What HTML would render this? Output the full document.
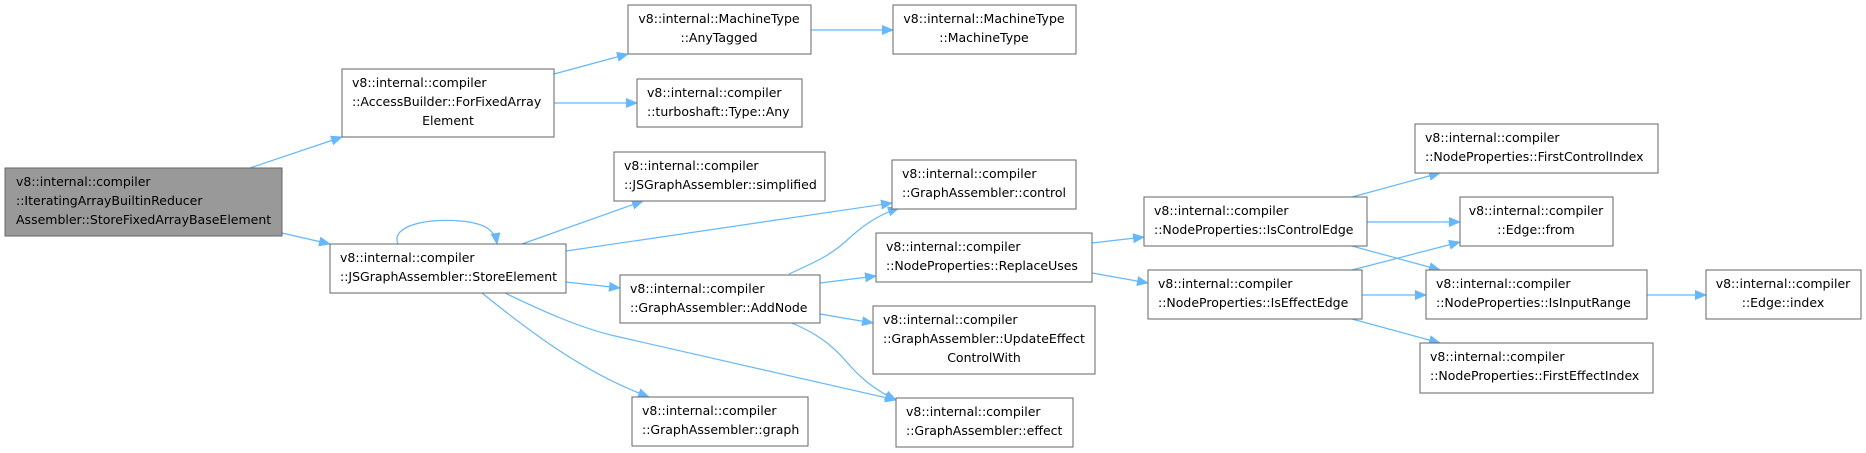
<!DOCTYPE html>
<html><head><meta charset="utf-8"><style>
html,body{margin:0;padding:0;background:#fff;}
svg{display:block;}
text{font-family:"DejaVu Sans","Liberation Sans",sans-serif;font-size:12.5px;fill:#000;}
rect{stroke:#666;stroke-width:1;fill:#fff;}
path.e{fill:none;stroke:#63b8ff;stroke-width:1.2;}
</style></head><body>
<svg width="1866" height="453" viewBox="0 0 1866 453" xmlns="http://www.w3.org/2000/svg">
<defs><marker id="a" markerWidth="12" markerHeight="10" refX="11" refY="5" orient="auto" markerUnits="userSpaceOnUse"><path d="M0,0 L12,5 L0,10 z" fill="#63b8ff"/></marker></defs>

<g>
<path class="e" marker-end="url(#a)" d="M250,168 L342,137"/>
<path class="e" marker-end="url(#a)" d="M282,233 L330,244"/>
<path class="e" marker-end="url(#a)" d="M398,244 C390,225 430,218 460,221 C485,223 495,230 497,244"/>
<path class="e" marker-end="url(#a)" d="M554,74 L628,54"/>
<path class="e" marker-end="url(#a)" d="M554,103 L637,103"/>
<path class="e" marker-end="url(#a)" d="M811,30 L893,30"/>
<path class="e" marker-end="url(#a)" d="M522,244 L643,201"/>
<path class="e" marker-end="url(#a)" d="M566,251 L892,203"/>
<path class="e" marker-end="url(#a)" d="M566,282 L620,288"/>
<path class="e" marker-end="url(#a)" d="M482,293 C540,340 590,375 649,397"/>
<path class="e" marker-end="url(#a)" d="M505,293 C540,310 580,328 615,336 C700,356 800,378 896,400"/>
<path class="e" marker-end="url(#a)" d="M789,274 C820,260 830,255 845,242 C860,228 875,216 899,208"/>
<path class="e" marker-end="url(#a)" d="M820,283 L876,276"/>
<path class="e" marker-end="url(#a)" d="M820,314 L873,323"/>
<path class="e" marker-end="url(#a)" d="M792,323 C815,333 830,343 845,360 C860,378 875,390 896,400"/>
<path class="e" marker-end="url(#a)" d="M1092,243 L1144,237"/>
<path class="e" marker-end="url(#a)" d="M1092,273 L1148,283"/>
<path class="e" marker-end="url(#a)" d="M1352,197 L1440,173"/>
<path class="e" marker-end="url(#a)" d="M1367,222 L1460,222"/>
<path class="e" marker-end="url(#a)" d="M1352,246 L1440,270"/>
<path class="e" marker-end="url(#a)" d="M1352,270 L1460,242"/>
<path class="e" marker-end="url(#a)" d="M1362,295 L1426,295"/>
<path class="e" marker-end="url(#a)" d="M1352,319 L1440,343"/>
<path class="e" marker-end="url(#a)" d="M1647,295 L1706,295"/>
</g>

<rect x="5" y="168" width="277" height="68" style="fill:#999"/>
<text x="16" y="186">v8::internal::compiler</text>
<text x="16" y="205">::IteratingArrayBuiltinReducer</text>
<text x="16" y="224">Assembler::StoreFixedArrayBaseElement</text>

<rect x="342" y="69" width="212" height="68"/>
<text x="352" y="87">v8::internal::compiler</text>
<text x="352" y="106">::AccessBuilder::ForFixedArray</text>
<text x="448" y="125" text-anchor="middle">Element</text>

<rect x="628" y="5" width="183" height="49"/>
<text x="719" y="23" text-anchor="middle">v8::internal::MachineType</text>
<text x="719" y="42" text-anchor="middle">::AnyTagged</text>

<rect x="893" y="5" width="183" height="49"/>
<text x="984" y="23" text-anchor="middle">v8::internal::MachineType</text>
<text x="984" y="42" text-anchor="middle">::MachineType</text>

<rect x="637" y="79" width="165" height="48"/>
<text x="647" y="97">v8::internal::compiler</text>
<text x="647" y="116">::turboshaft::Type::Any</text>

<rect x="614" y="152" width="211" height="49"/>
<text x="624" y="170">v8::internal::compiler</text>
<text x="624" y="189">::JSGraphAssembler::simplified</text>

<rect x="892" y="160" width="184" height="49"/>
<text x="902" y="178">v8::internal::compiler</text>
<text x="902" y="197">::GraphAssembler::control</text>

<rect x="330" y="244" width="236" height="49"/>
<text x="340" y="262">v8::internal::compiler</text>
<text x="340" y="281">::JSGraphAssembler::StoreElement</text>

<rect x="620" y="275" width="200" height="48"/>
<text x="630" y="293">v8::internal::compiler</text>
<text x="630" y="312">::GraphAssembler::AddNode</text>

<rect x="876" y="233" width="216" height="49"/>
<text x="886" y="251">v8::internal::compiler</text>
<text x="886" y="270">::NodeProperties::ReplaceUses</text>

<rect x="873" y="306" width="222" height="68"/>
<text x="883" y="324">v8::internal::compiler</text>
<text x="883" y="343">::GraphAssembler::UpdateEffect</text>
<text x="984" y="362" text-anchor="middle">ControlWith</text>

<rect x="632" y="397" width="176" height="49"/>
<text x="642" y="415">v8::internal::compiler</text>
<text x="642" y="434">::GraphAssembler::graph</text>

<rect x="896" y="398" width="177" height="49"/>
<text x="906" y="416">v8::internal::compiler</text>
<text x="906" y="435">::GraphAssembler::effect</text>

<rect x="1144" y="197" width="223" height="49"/>
<text x="1154" y="215">v8::internal::compiler</text>
<text x="1154" y="234">::NodeProperties::IsControlEdge</text>

<rect x="1148" y="270" width="214" height="49"/>
<text x="1158" y="288">v8::internal::compiler</text>
<text x="1158" y="307">::NodeProperties::IsEffectEdge</text>

<rect x="1415" y="124" width="243" height="49"/>
<text x="1425" y="142">v8::internal::compiler</text>
<text x="1425" y="161">::NodeProperties::FirstControlIndex</text>

<rect x="1460" y="197" width="153" height="49"/>
<text x="1536" y="215" text-anchor="middle">v8::internal::compiler</text>
<text x="1536" y="234" text-anchor="middle">::Edge::from</text>

<rect x="1426" y="270" width="221" height="49"/>
<text x="1436" y="288">v8::internal::compiler</text>
<text x="1436" y="307">::NodeProperties::IsInputRange</text>

<rect x="1420" y="343" width="233" height="50"/>
<text x="1430" y="361">v8::internal::compiler</text>
<text x="1430" y="380">::NodeProperties::FirstEffectIndex</text>

<rect x="1706" y="270" width="155" height="49"/>
<text x="1783" y="288" text-anchor="middle">v8::internal::compiler</text>
<text x="1783" y="307" text-anchor="middle">::Edge::index</text>
</svg>
</body></html>
